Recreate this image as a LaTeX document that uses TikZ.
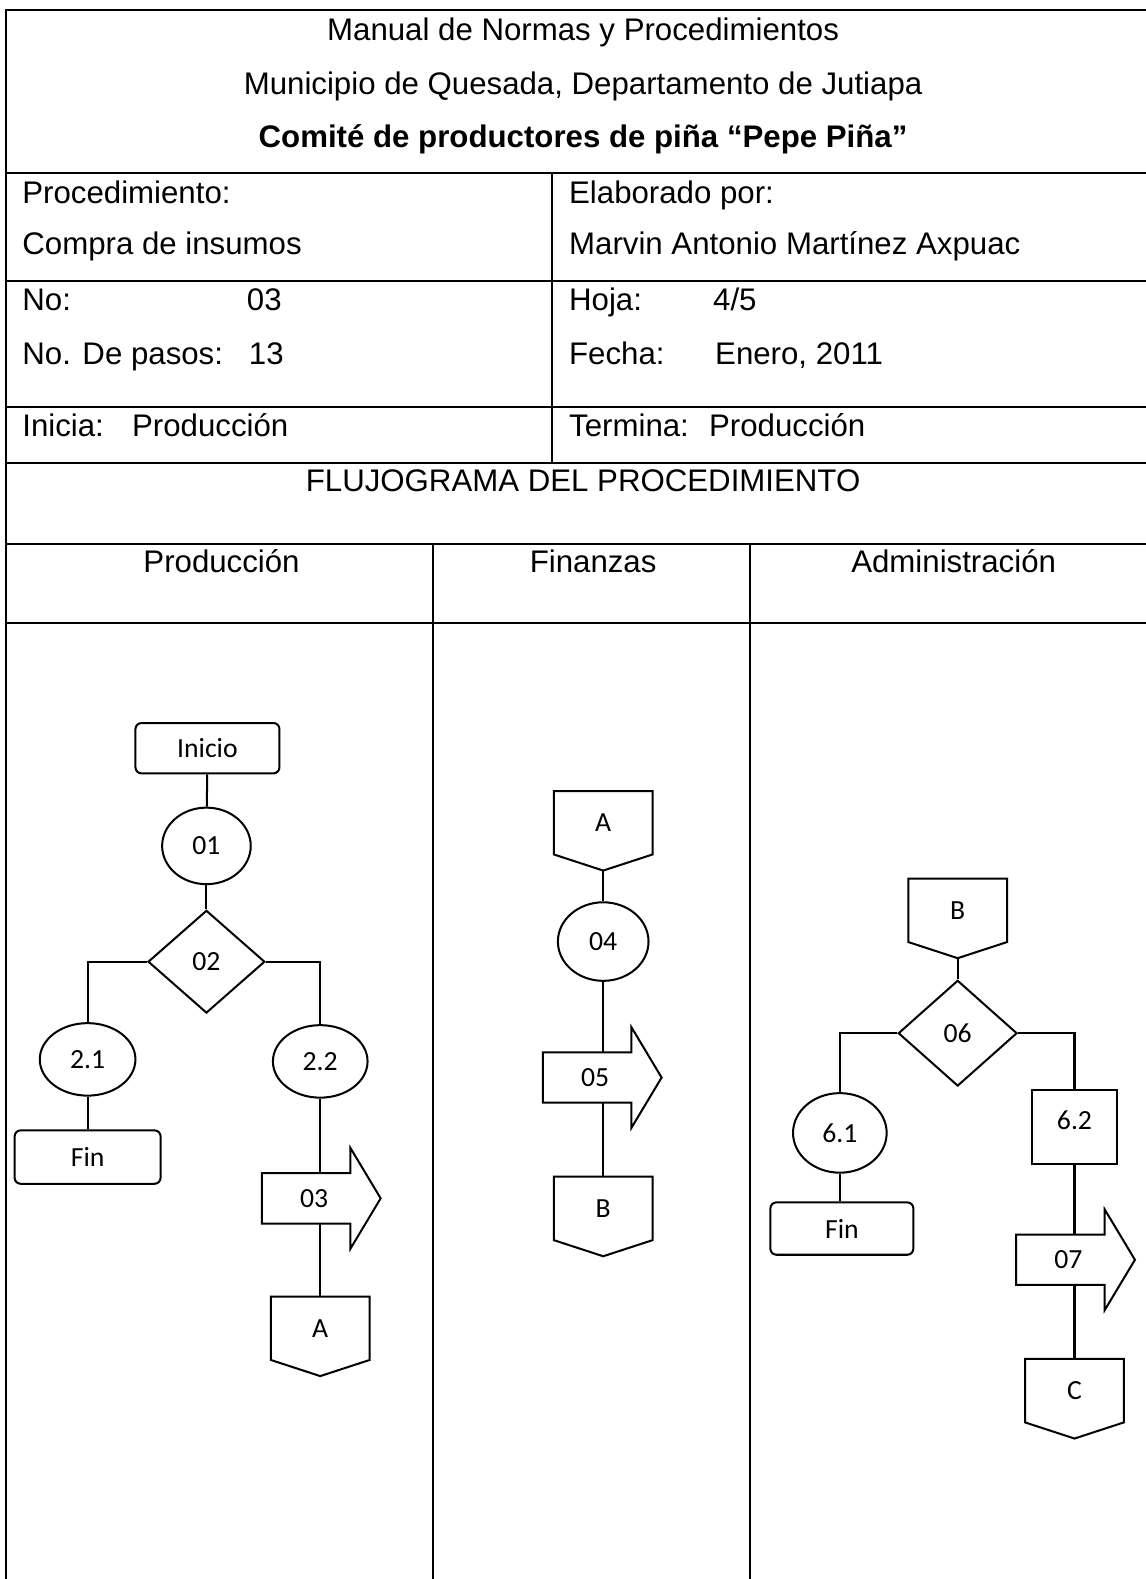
\documentclass[tikz,border=0pt]{standalone}
\usepackage{fontspec}
\setmainfont{Liberation Sans}
\newfontfamily\carlito{Carlito}
\usetikzlibrary{shapes.geometric,calc}
% conector de pagina y flecha de proceso, dibujados sobre un nodo sin borde
\newcommand{\pagina}[1]{\draw (#1.north west) -- (#1.north east) -- (#1.south east) -- ($(#1.south)+(0,16)$) -- (#1.south west) -- cycle;}
\newcommand{\flecha}[1]{\draw (#1.north west) -- ($(#1.north east)+(-16,0)$) -- ++(0,-25) -- ($(#1.east)+(14,0)$) -- ($(#1.south east)+(-16,25)$) -- ++(0,-25) -- (#1.south west) -- cycle;}

\begin{document}
\begin{tikzpicture}[x=1pt,y=-1pt,
    tabla/.style={line width=2.2pt},
    txt/.style={inner sep=0,font=\fontsize{31}{37}\selectfont},
    inicio/.style={draw,rounded corners=6,minimum width=143,minimum height=50},
    paso/.style={draw,ellipse,inner sep=0},
    decision/.style={draw,diamond,inner sep=0,minimum width=116,minimum height=102},
    caja/.style={draw,minimum width=84,minimum height=73,text depth=14},
    conector/.style={inner sep=0,outer sep=0,minimum width=98,minimum height=63},
    flechabox/.style={inner sep=0,outer sep=0,minimum width=104,minimum height=50}]
  \useasboundingbox (0,0) rectangle (1138,1568);
  % tabla
  \draw[tabla] (1138,10) -- (6,10) -- (6,1568);
  \foreach \y in {172,279,404,460,540,619}
    \draw[tabla] (6,\y) -- (1138,\y);
  \draw[tabla] (548,172) -- (548,460);
  \foreach \x in {430,745}
    \draw[tabla] (\x,540) -- (\x,1568);
  \node[txt,anchor=base] (t1) at (579,40) {Manual de Normas y Procedimientos};
  \node[txt,anchor=base] (t2) at (579,94) {Municipio de Quesada, Departamento de Jutiapa};
  \node[txt,anchor=base] (t3) at (579,146) {\bfseries Comité de productores de piña “Pepe Piña”};
  \node[txt,anchor=base west] (proc) at (22,202) {Procedimiento:};
  \node[txt,anchor=base west] (compra) at (22,253) {Compra de insumos};
  \node[txt,anchor=base west] (elab) at (565,202) {Elaborado por:};
  \node[txt,anchor=base west] (autor) at (565,253) {Marvin Antonio Martínez Axpuac};
  \node[txt,anchor=base west] (num) at (22,308) {No:};
  \node[txt,anchor=base west] (numv) at (245,308) {03};
  \node[txt,anchor=base west] (pasos) at (22,362) {No. De pasos:};
  \node[txt,anchor=base west] (pasosv) at (247,362) {13};
  \node[txt,anchor=base west] (hoja) at (565,308) {Hoja:};
  \node[txt,anchor=base west] (hojav) at (708,308) {4/5};
  \node[txt,anchor=base west] (fecha) at (565,362) {Fecha:};
  \node[txt,anchor=base west] (fechav) at (710,362) {Enero, 2011};
  \node[txt,anchor=base west] (inicia) at (22,433) {Inicia:};
  \node[txt,anchor=base west] (iniciav) at (131,433) {Producción};
  \node[txt,anchor=base west] (termina) at (565,433) {Termina:};
  \node[txt,anchor=base west] (terminav) at (704,433) {Producción};
  \node[txt,anchor=base] (flujo) at (579,488) {FLUJOGRAMA DEL PROCEDIMIENTO};
  \node[txt,anchor=base] (colprod) at (220,569) {Producción};
  \node[txt,anchor=base] (colfin) at (589,569) {Finanzas};
  \node[txt,anchor=base] (coladm) at (947,569) {Administración};

  \begin{scope}[line width=2pt,every node/.append style={font=\carlito\fontsize{27.5}{33}\selectfont}]
    % Produccion
    \node[inicio] (ini) at (206,743) {Inicio};
    \node[paso,minimum width=88,minimum height=76] (p01) at (205,840) {01};
    \node[decision] (p02) at (205,955) {02};
    \node[paso,minimum width=95,minimum height=72] (p21) at (87,1052) {2.1};
    \node[inicio,minimum width=145,minimum height=53] (fin1) at (87,1149) {Fin};
    \node[paso,minimum width=94,minimum height=72] (p22) at (318,1054) {2.2};
    \node[flechabox] (p03) at (312,1190) {03};
    \node[conector] (pa) at (318,1319) {A};
    \flecha{p03}
    \pagina{pa}
    \draw (ini) -- (p01);
    \draw (p01) -- (p02);
    \draw (p02.west) -| (p21.north);
    \draw (p02.east) -| (p22.north);
    \draw (p21.south) -- (p21.south |- fin1.north);
    \draw (p22.south) -- (p22.south |- p03.north);
    \draw (p22.south |- p03.south) -- (pa.north);
    % Finanzas
    \node[conector] (fa) at (599,817) {A};
    \node[paso,minimum width=90,minimum height=78] (f04) at (599,935) {04};
    \node[flechabox] (f05) at (591,1070) {05};
    \node[conector] (fb) at (599,1200) {B};
    \pagina{fa}
    \flecha{f05}
    \pagina{fb}
    \draw ($(fa.south)+(0,16)$) -- (f04.north);
    \draw (f04.south) -- (f04.south |- f05.north);
    \draw (f04.south |- f05.south) -- (fb.north);
    % Administracion
    \node[conector] (ab) at (951,904) {B};
    \node[decision,minimum width=118,minimum height=105] (a06) at (951,1026) {06};
    \node[paso,minimum width=93,minimum height=79] (a61) at (834,1125) {6.1};
    \node[inicio,minimum width=142,minimum height=52] (fin2) at (836,1220) {Fin};
    \node[caja] (a62) at (1067,1119) {6.2};
    \node[flechabox] (a07) at (1061,1251) {07};
    \node[conector] (ac) at (1067,1381) {C};
    \pagina{ab}
    \flecha{a07}
    \pagina{ac}
    \draw ($(ab.south)+(0,16)$) -- (a06.north);
    \draw (a06.west) -| (a61.north);
    \draw (a06.east) -| (a62.north);
    \draw (a61.south) -- (a61.south |- fin2.north);
    \draw (a62.south) -- (a62.south |- a07.north);
    \draw (a62.south |- a07.south) -- (ac.north);
  \end{scope}
\end{tikzpicture}
\end{document}
